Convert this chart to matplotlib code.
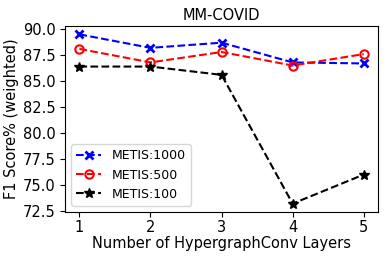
import matplotlib
matplotlib.use("Agg")
import matplotlib.pyplot as plt
from matplotlib.ticker import MultipleLocator

layers = [1, 2, 3, 4, 5]
metis_1000 = [89.5, 88.2, 88.7, 86.8, 86.7]
metis_500 = [88.1, 86.8, 87.8, 86.5, 87.6]
metis_100 = [86.4, 86.4, 85.6, 73.2, 76.0]

fig, ax = plt.subplots(figsize=(3.88, 2.59), dpi=100)

ax.plot(layers, metis_1000, "b--x", label="METIS:1000", markersize=6, markeredgewidth=2)
ax.plot(layers, metis_500, "r--o", label="METIS:500", markersize=6, markeredgewidth=1.5,
        markerfacecolor="none")
ax.plot(layers, metis_100, "k--*", label="METIS:100", markersize=7)

ax.set_title("MM-COVID", fontsize=10.5, pad=4)
ax.set_xlabel("Number of HypergraphConv Layers", fontsize=10.5, labelpad=1)
ax.set_ylabel("F1 Score% (weighted)", fontsize=10.5, labelpad=3)
ax.set_xticks(layers)
ax.yaxis.set_major_locator(MultipleLocator(2.5))
ax.tick_params(labelsize=10.5)
ax.tick_params(axis="x", pad=2)
ax.legend(fontsize=9, loc="lower left")

plt.subplots_adjust(left=0.168, right=0.974, top=0.9, bottom=0.181)
plt.savefig("out.png", dpi=100)
plt.close()
